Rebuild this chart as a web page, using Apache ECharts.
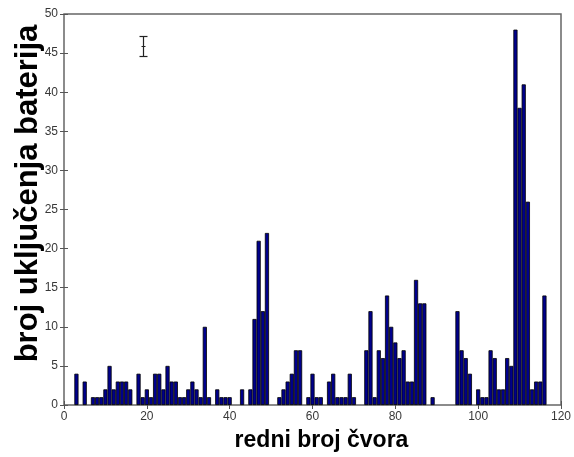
<!DOCTYPE html>
<html>
<head>
<meta charset="utf-8">
<script src="https://cdn.jsdelivr.net/npm/echarts@6/dist/echarts.min.js"></script>
<style>
  html, body { margin: 0; padding: 0; background: #fff; }
  #chart { width: 574px; height: 457px; }
</style>
</head>
<body>
<div id="chart"></div>
<script>
// Node index (redni broj čvora) and number of battery switch-ons per node
const nodes = [];
for (let i = 1; i <= 116; i++) nodes.push(i);
const switchOns = [
  0, 0, 4, 0, 3, 0, 1, 1, 1, 2,     // 1-10
  5, 2, 3, 3, 3, 2, 0, 4, 1, 2,     // 11-20
  1, 4, 4, 2, 5, 3, 3, 1, 1, 2,     // 21-30
  3, 2, 1, 10, 1, 0, 2, 1, 1, 1,    // 31-40
  0, 0, 2, 0, 2, 11, 21, 12, 22, 0, // 41-50
  0, 1, 2, 3, 4, 7, 7, 0, 1, 4,     // 51-60
  1, 1, 0, 3, 4, 1, 1, 1, 4, 1,     // 61-70
  0, 0, 7, 12, 1, 7, 6, 14, 10, 8,  // 71-80
  6, 7, 3, 3, 16, 13, 13, 0, 1, 0,  // 81-90
  0, 0, 0, 0, 12, 7, 6, 4, 0, 2,    // 91-100
  1, 1, 7, 6, 2, 2, 6, 5, 48, 38,   // 101-110
  41, 26, 2, 3, 3, 14               // 111-116
];
const xTicks = { min: 0, max: 120, interval: 20 };
const yTicks = { min: 0, max: 50, interval: 5 };

const xTitle = 'redni broj čvora';
const yTitle = 'broj uključenja baterija';

const grid = { left: 64, top: 14, width: 497, height: 391 };
const unitPx = grid.width / (xTicks.max - xTicks.min);

const barData = [];
nodes.forEach((n, i) => { if (switchOns[i] > 0) barData.push([n, switchOns[i]]); });

const fontFamily = 'Liberation Sans, Arial, sans-serif';
const tickStyle = { show: true, inside: true, length: 4, lineStyle: { color: '#555', width: 1 } };
const labelStyle = { color: '#383838', fontFamily: fontFamily, fontSize: 12 };

const chart = echarts.init(document.getElementById('chart'), null, { renderer: 'canvas' });
chart.setOption({
  animation: false,
  backgroundColor: '#fff',
  grid: Object.assign({
    show: true, borderColor: '#666', borderWidth: 1.5, backgroundColor: '#fff',
    containLabel: false, outerBoundsMode: 'none'
  }, grid),
  xAxis: [
    {
      type: 'value', min: xTicks.min, max: xTicks.max, interval: xTicks.interval,
      position: 'bottom',
      axisLine: { show: false }, splitLine: { show: false },
      axisTick: tickStyle,
      axisLabel: Object.assign({ margin: 6 }, labelStyle),
      name: xTitle, nameLocation: 'middle', nameGap: 24, nameMoveOverlap: false,
      nameTextStyle: { fontFamily: fontFamily, fontWeight: 'bold', fontSize: 23, color: '#000', padding: [0, 0, 0, 18] }
    },
    {
      type: 'value', min: xTicks.min, max: xTicks.max, interval: xTicks.interval,
      position: 'top',
      axisLine: { show: false }, splitLine: { show: false },
      axisTick: tickStyle, axisLabel: { show: false }
    }
  ],
  yAxis: [
    {
      type: 'value', min: yTicks.min, max: yTicks.max, interval: yTicks.interval,
      position: 'left',
      axisLine: { show: false }, splitLine: { show: false },
      axisTick: tickStyle,
      axisLabel: Object.assign({ margin: 6 }, labelStyle),
      name: yTitle, nameLocation: 'middle', nameGap: 20, nameRotate: 90, nameMoveOverlap: false,
      nameTextStyle: { fontFamily: fontFamily, fontWeight: 'bold', fontSize: 31, color: '#000', padding: [0, 0, 0, 32] }
    },
    {
      type: 'value', min: yTicks.min, max: yTicks.max, interval: yTicks.interval,
      position: 'right',
      axisLine: { show: false }, splitLine: { show: false },
      axisTick: tickStyle, axisLabel: { show: false }
    }
  ],
  series: [
    {
      type: 'bar',
      xAxisIndex: 0, yAxisIndex: 0,
      data: barData,
      barWidth: unitPx,
      itemStyle: { color: '#00008c', borderColor: '#000', borderWidth: 0.8 }
    }
  ],
  graphic: [
    {
      // text-cursor glyph near the top left of the plot
      type: 'group', left: 137, top: 34, silent: true,
      children: [
        { type: 'line', shape: { x1: 5, y1: 1, x2: 5, y2: 21 }, style: { stroke: '#222', lineWidth: 1.2 } },
        { type: 'line', shape: { x1: 1, y1: 1, x2: 9, y2: 1 }, style: { stroke: '#222', lineWidth: 1.2 } },
        { type: 'line', shape: { x1: 1, y1: 21, x2: 9, y2: 21 }, style: { stroke: '#222', lineWidth: 1.2 } },
        { type: 'line', shape: { x1: 3, y1: 11, x2: 7, y2: 11 }, style: { stroke: '#222', lineWidth: 1 } }
      ]
    }
  ]
});
</script>
</body>
</html>
